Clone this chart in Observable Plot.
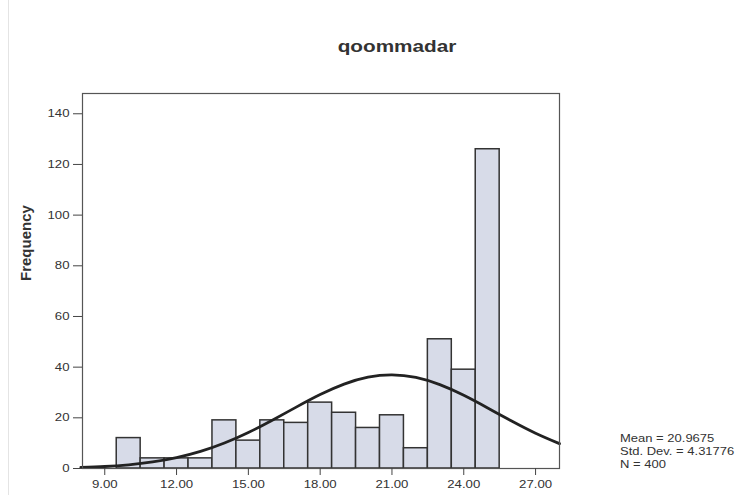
<!DOCTYPE html>
<html>
<head>
<meta charset="utf-8">
<script src="https://cdn.jsdelivr.net/npm/d3@7"></script>
<script src="https://cdn.jsdelivr.net/npm/@observablehq/plot@0.6"></script>
<style>
  html, body { margin: 0; padding: 0; background: #fff; }
  #wrap { position: relative; width: 742px; height: 495px; overflow: hidden; font-family: "Liberation Sans", Arial, sans-serif; }
  #title { position: absolute; left: 297px; width: 200px; top: 37px; text-align: center; font-weight: bold; font-size: 17px; color: #333; transform: scaleX(1.22); transform-origin: 50% 50%; }
  #stats { position: absolute; left: 620px; top: 432px; font-size: 11.5px; line-height: 12.8px; color: #333; transform: scaleX(1.13); transform-origin: 0 0; white-space: nowrap; }
  #edge { position: absolute; left: 8px; top: 0; width: 1px; height: 495px; background: #e4e4e4; }
  #chart { position: absolute; left: 0; top: 0; }
</style>
</head>
<body>
<div id="wrap">
  <div id="edge"></div>
  <div id="chart"></div>
  <div id="title"></div>
  <div id="stats"></div>
</div>
<script>
// Chart title and variable
const chartTitle = "qoommadar";
const yLabel = "Frequency";

// Histogram bins (bin centres, width 1) and their frequencies
const binCenters = [10, 11, 12, 13, 14, 15, 16, 17, 18, 19, 20, 21, 22, 23, 24, 25];
const frequencies = [12, 4, 4, 4, 19, 11, 19, 18, 26, 22, 16, 21, 8, 51, 39, 126];

// Fitted normal curve
const curveX = [8, 9, 10, 11, 12, 13, 14, 15, 16, 17, 18, 19, 20, 21, 22, 23, 24, 25, 26, 27, 28];
const curveY = [0.41, 0.79, 1.47, 2.57, 4.27, 6.73, 10.05, 14.22, 19.07, 24.23, 29.19, 33.32, 36.04, 36.96, 35.92, 33.08, 28.88, 23.90, 18.74, 13.93, 9.81];

// Axis ticks
const xTicks = [9, 12, 15, 18, 21, 24, 27];
const yTicks = [0, 20, 40, 60, 80, 100, 120, 140];

// Summary statistics
const statLines = ["Mean = 20.9675", "Std. Dev. = 4.31776", "N = 400"];

const bins = binCenters.map((c, i) => ({x1: c - 0.5, x2: c + 0.5, y: frequencies[i]}));
const curve = curveX.map((x, i) => ({x, y: curveY[i]}));

const chart = Plot.plot({
  width: 742,
  height: 495,
  marginLeft: 82,
  marginRight: 183,
  marginTop: 93,
  marginBottom: 27,
  style: {fontFamily: "'Liberation Sans', Arial, sans-serif", fontSize: "11px", color: "#333", background: "transparent"},
  x: {domain: [8.07, 28.0]},
  y: {domain: [0, 148]},
  marks: [
    Plot.rect(bins, {x1: "x1", x2: "x2", y1: 0, y2: "y", fill: "#d7dbe8", stroke: "#333", strokeWidth: 1.5}),
    Plot.line(curve, {x: "x", y: "y", stroke: "#222", strokeWidth: 2.8, curve: "natural"}),
    Plot.frame({stroke: "#555", strokeWidth: 1.2}),
    Plot.axisY({ticks: yTicks, tickSize: 9, tickPadding: 4, tickFormat: d3.format("d"), label: null, stroke: "#444", fontSize: 11}),
    Plot.axisX({ticks: xTicks, tickSize: 7, tickPadding: 5, tickFormat: d3.format(".2f"), label: null, stroke: "#444", fontSize: 11}),
    Plot.text([yLabel], {frameAnchor: "left", dx: -56, rotate: -90, text: d => d, fontWeight: "bold", fontSize: 15, fill: "#333"})
  ]
});

// The reference is a horizontally stretched scan: widen tick labels around their anchor
const isNum = v => v !== null && /^\s*-?[\d.]+(e-?\d+)?\s*$/.test(v);
chart.querySelectorAll('g[aria-label$="tick label"] text').forEach(t => {
  const tr = t.getAttribute("transform");
  const x = t.getAttribute("x");
  const y = t.getAttribute("y");
  let tx = 0, ty = 0;
  if (isNum(x)) { tx = +x; t.removeAttribute("x"); }
  if (isNum(y)) { ty = +y; t.removeAttribute("y"); }
  t.setAttribute("transform", `${tr ? tr + " " : ""}translate(${tx},${ty}) scale(1.2,1)`);
});

document.getElementById("chart").appendChild(chart);
document.getElementById("title").textContent = chartTitle;
document.getElementById("stats").innerHTML = statLines.map(s => `<div>${s}</div>`).join("");
</script>
</body>
</html>
